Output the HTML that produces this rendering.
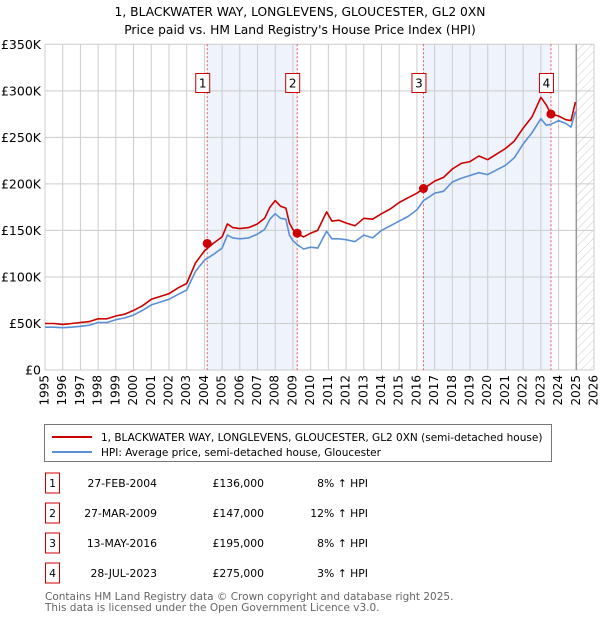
<!DOCTYPE html>
<html><head><meta charset="utf-8"><style>
body{margin:0;background:#fff;width:600px;height:620px;overflow:hidden;font-family:"DejaVu Sans","Liberation Sans",sans-serif}
svg text{font-family:"DejaVu Sans","Liberation Sans",sans-serif}
</style></head><body>
<svg id="c" width="600" height="620">
<text x="300" y="16" text-anchor="middle" font-size="12.3" fill="#000">1, BLACKWATER WAY, LONGLEVENS, GLOUCESTER, GL2 0XN</text>
<text x="300" y="34" text-anchor="middle" font-size="12.3" fill="#000">Price paid vs. HM Land Registry's House Price Index (HPI)</text>
<g id="plot"></g>
<rect x="44.5" y="424.5" width="507" height="37" fill="#fff" stroke="#777"/>
<line x1="52" y1="437" x2="92" y2="437" stroke="#cc0000" stroke-width="2"/>
<text x="101" y="441" font-size="10.5">1, BLACKWATER WAY, LONGLEVENS, GLOUCESTER, GL2 0XN (semi-detached house)</text>
<line x1="52" y1="452" x2="92" y2="452" stroke="#5b8fd6" stroke-width="2"/>
<text x="101" y="456" font-size="10.5">HPI: Average price, semi-detached house, Gloucester</text>
<g id="table"></g>
<text x="45" y="600" font-size="10.5" fill="#666">Contains HM Land Registry data © Crown copyright and database right 2025.</text>
<text x="45" y="611" font-size="10.5" fill="#666">This data is licensed under the Open Government Licence v3.0.</text>
</svg>
<script>
const years=[1995,1995.5,1996,1996.5,1997,1997.5,1998,1998.5,1999,1999.5,2000,2000.5,2001,2001.5,2002,2002.5,2003,2003.5,2004,2004.5,2005,2005.3,2005.6,2006,2006.5,2007,2007.4,2007.7,2008,2008.3,2008.6,2008.8,2009,2009.3,2009.6,2010,2010.4,2010.9,2011.2,2011.6,2012,2012.5,2013,2013.5,2014,2014.5,2015,2015.5,2016,2016.37,2016.7,2017,2017.5,2018,2018.5,2019,2019.5,2020,2020.5,2021,2021.5,2022,2022.5,2023,2023.3,2023.57,2024,2024.4,2024.7,2024.95];
const hpiValues=[46,46,45.5,46,47,48,51,51,54,56,59,64,70,73,76,81,86,106,118,124,131,145,142,141,142,146,151,162,168,163,162,145,139,134,130,132,131,149,141,141,140,138,145,142,150,155,160,165,172,182,186,190,192,202,206,209,212,210,215,220,228,243,255,270,263,264,268,265,261,278];
const propertyValues=[50,50,49,50,51,52,55,55,58,60,64,69,76,79,82,88,93,115,128,136,143,157,153,152,153,157,163,175,182,176,174,158,151,146,143,147,150,170,160,161,158,155,163,162,168,173,180,185,190,195,199,203,207,216,222,224,230,226,232,238,246,260,272,293,285,275,273,269,268,288];
const saleYears=[2004.16,2009.24,2016.37,2023.57];
const salePrices=[136,147,195,275];
const saleLabels=["1","2","3","4"];
const saleDates=["27-FEB-2004","27-MAR-2009","13-MAY-2016","28-JUL-2023"];
const salePriceText=["£136,000","£147,000","£195,000","£275,000"];
const saleHpiText=["8% ↑ HPI","12% ↑ HPI","8% ↑ HPI","3% ↑ HPI"];
const yTicks=[0,50,100,150,200,250,300,350];
const yTickLabels=["£0","£50K","£100K","£150K","£200K","£250K","£300K","£350K"];
const xTicks=[1995,1996,1997,1998,1999,2000,2001,2002,2003,2004,2005,2006,2007,2008,2009,2010,2011,2012,2013,2014,2015,2016,2017,2018,2019,2020,2021,2022,2023,2024,2025,2026];

const X0=45,X1=594,Y0=370,Y1=44.3,YR0=1995,YR1=2026,VMAX=350,FORECAST=2025;
const sx=y=>X0+(y-YR0)/(YR1-YR0)*(X1-X0);
const sy=v=>Y0-v/VMAX*(Y0-Y1);
const NS="http://www.w3.org/2000/svg";
const plot=document.getElementById('plot');
function mk(tag,attrs,parent){const e=document.createElementNS(NS,tag);for(const k in attrs)e.setAttribute(k,attrs[k]);(parent||plot).appendChild(e);return e;}

for(let i=0;i<saleYears.length;i+=2){
  const r=mk('rect',{x:sx(saleYears[i]),y:Y1,width:sx(saleYears[i+1])-sx(saleYears[i]),height:Y0-Y1,fill:'#eef3fc'});
  
  
}
const defs=mk('defs',{});
const pat=mk('pattern',{id:'hatch',patternUnits:'userSpaceOnUse',width:6,height:6,patternTransform:'rotate(45)'},defs);
mk('line',{x1:0,y1:0,x2:0,y2:6,stroke:'#ccc','stroke-width':1},pat);
const hr=mk('rect',{x:sx(FORECAST),y:Y1,width:X1-sx(FORECAST),height:Y0-Y1,fill:'url(#hatch)'});


xTicks.forEach(t=>{
  const l=mk('line',{x1:sx(t),y1:Y1,x2:sx(t),y2:Y0,stroke:'#cccccc','stroke-width':1});
  
  
  const tx=mk('text',{x:0,y:0,'font-size':12,'text-anchor':'end','dominant-baseline':'middle',transform:`translate(${sx(t)},${Y0+5}) rotate(-90)`});
  tx.textContent=t;
  
  
});
yTicks.forEach((t,i)=>{
  const l=mk('line',{x1:X0,y1:sy(t),x2:X1,y2:sy(t),stroke:'#cccccc','stroke-width':1});
  
  
  const tx=mk('text',{x:X0-4,y:sy(t)+4.5,'font-size':12.5,'text-anchor':'end'});
  tx.textContent=yTickLabels[i];
  
  
});
const fl=mk('line',{x1:sx(FORECAST),y1:Y1,x2:sx(FORECAST),y2:Y0,stroke:'#999','stroke-width':1.5});


saleYears.forEach((y,i)=>{
  const l=mk('line',{x1:sx(y),y1:Y1,x2:sx(y),y2:Y0,stroke:'#ee5555','stroke-width':1,'stroke-dasharray':'2,2'});
  
  
  const b=mk('rect',{x:sx(y)-11.5,y:73.5,width:14,height:19,fill:'#fff',stroke:'#cc0000'});
  
  
  const t=mk('text',{x:sx(y)-4.5,y:87.5,'font-size':12,'text-anchor':'middle'});
  t.textContent=saleLabels[i];
  
  
});
function path(vals,color,name){
  const d=years.map((y,i)=>(i?'L':'M')+sx(y).toFixed(1)+','+sy(vals[i]).toFixed(1)).join('');
  const p=mk('path',{d:d,fill:'none',stroke:color,'stroke-width':1.6,'stroke-linejoin':'round'});
  
  
}
path(hpiValues,'#5b8fd6','hpi-line');
path(propertyValues,'#cc0000','property-line');
saleYears.forEach((y,i)=>{
  const c=mk('circle',{cx:sx(y),cy:sy(salePrices[i]),r:4.5,fill:'#cc0000'});
  
  
});
const tb=document.getElementById('table');
saleYears.forEach((y,i)=>{
  const cy=483+i*30;
  const b=mk('rect',{x:45.5,y:cy-10,width:14,height:20,fill:'#fff',stroke:'#cc0000'},tb);
  
  
  const cells=[[52.5,'middle',saleLabels[i],'table-row-number'],[157,'end',saleDates[i],'table-date'],[264,'end',salePriceText[i],'table-price'],[368,'end',saleHpiText[i],'table-hpi-change']];
  cells.forEach(c=>{
    const t=mk('text',{x:c[0],y:cy+4,'font-size':10.8,'text-anchor':c[1]},tb);
    t.textContent=c[2];
    
    
  });
});
</script>
</body></html>
